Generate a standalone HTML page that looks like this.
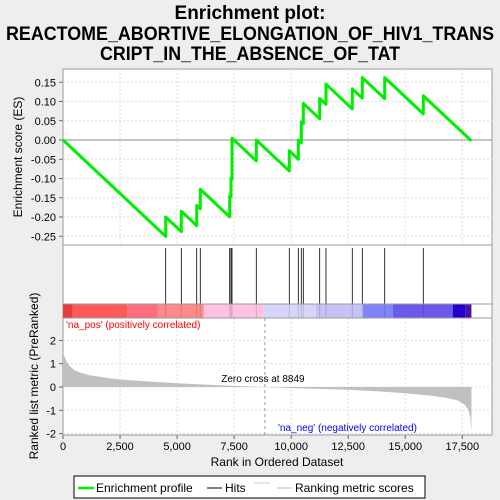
<!DOCTYPE html>
<html><head><meta charset="utf-8"><style>
html,body{margin:0;padding:0;background:#eeeeee;}
svg{display:block;font-family:"Liberation Sans",sans-serif;}
</style></head><body>
<svg id="chart" width="500" height="500" viewBox="0 0 500 500">
<rect x="0" y="0" width="500" height="500" fill="#eeeeee"/>
<g font-weight="bold" font-size="19" text-anchor="middle" fill="#000">
<text x="250" y="19">Enrichment plot:</text>
<text x="250" y="40" textLength="488" lengthAdjust="spacingAndGlyphs">REACTOME_ABORTIVE_ELONGATION_OF_HIV1_TRANS</text>
<text x="250" y="60" textLength="300" lengthAdjust="spacingAndGlyphs">CRIPT_IN_THE_ABSENCE_OF_TAT</text>
</g>
<rect x="63" y="69" width="429" height="366" fill="#fff" stroke="#999"/>
<g id="grid"></g>
<g id="es"></g>
<g id="hits"></g>
<g id="bar"></g>
<g id="metric"></g>
<g id="axes"></g>
<text x="22" y="157" transform="rotate(-90 22 157)" text-anchor="middle" font-size="12">Enrichment score (ES)</text>
<text x="38" y="376" transform="rotate(-90 38 376)" text-anchor="middle" font-size="12">Ranked list metric (PreRanked)</text>
<text x="277" y="466" text-anchor="middle" font-size="12">Rank in Ordered Dataset</text>
<g>
<rect x="74" y="476" width="351" height="22" fill="#fff" stroke="#000"/>
<line x1="78" y1="488" x2="94" y2="488" stroke="#00ee00" stroke-width="2.5"/>
<text x="96" y="492" font-size="12">Enrichment profile</text>
<line x1="207" y1="488" x2="222" y2="488" stroke="#000"/>
<text x="225" y="492" font-size="12">Hits</text>
<line x1="254" y1="483" x2="270" y2="483" stroke="#ccc"/>
<line x1="277" y1="488" x2="292" y2="488" stroke="#bbb"/>
<text x="295" y="492" font-size="12">Ranking metric scores</text>
</g>
</svg>
<script>
const NS="http://www.w3.org/2000/svg";
const totalRanks=17900;
const hitRanks=[4501,5185,5860,6017,7306,7363,7407,8472,9918,10313,10444,10532,11250,11526,12679,13117,14099,15791];
const esAfterHit=[-0.200,-0.185,-0.170,-0.128,-0.145,-0.100,0.005,0.000,-0.028,0.000,0.047,0.095,0.108,0.145,0.133,0.162,0.162,0.115];
const esMissStep=0.0000556;
const esTicks=[-0.25,-0.20,-0.15,-0.10,-0.05,0.00,0.05,0.10,0.15];
const xTicks=[0,2500,5000,7500,10000,12500,15000,17500];
const metricTicks=[-2,-1,0,1,2];
const metricRanks=[0,50,150,300,500,800,1200,2000,2500,3500,5000,6500,8000,8849,10000,11500,12500,14000,15000,16000,16800,17300,17600,17750,17850,17900];
const metricValues=[1.6,1.35,1.1,0.9,0.72,0.6,0.5,0.38,0.32,0.25,0.16,0.09,0.03,0.0,-0.05,-0.09,-0.12,-0.2,-0.27,-0.36,-0.46,-0.58,-0.75,-0.95,-1.3,-1.9];
const barBounds=[0,430,2810,4140,6170,8800,11080,13150,14450,17080,17650,17900];
const barColors=["#e83c3c","#ff5a5a","#ff6e7e","#ff8a8a","#ffc2e2","#d6d6fa","#c6c2f8","#8282fa","#6a5aea","#2400cc","#4c10a8"];
const zeroCross=8849;

const X=r=>63+r*0.022817;
const Yes=v=>140-v*385;
const Ym=v=>387-v*23.3;
function mk(tag,attrs,parent){const e=document.createElementNS(NS,tag);for(const k in attrs)e.setAttribute(k,attrs[k]);parent.appendChild(e);return e;}
const grid=document.getElementById('grid'),es=document.getElementById('es'),hits=document.getElementById('hits'),bar=document.getElementById('bar'),metric=document.getElementById('metric'),axes=document.getElementById('axes');

// grid
xTicks.forEach(t=>{if(t===0)return;[[69,245],[318,435]].forEach(([a,b])=>{const l=mk('line',{x1:X(t),x2:X(t),y1:a,y2:b,stroke:'#ddd','stroke-dasharray':'2,2'},grid);

});});
esTicks.forEach(t=>{const l=mk('line',{x1:63,x2:492,y1:Yes(t),y2:Yes(t),stroke:'#ddd','stroke-dasharray':'2,2'},grid);

});
metricTicks.forEach(t=>{const l=mk('line',{x1:63,x2:492,y1:Ym(t),y2:Ym(t),stroke:'#ddd','stroke-dasharray':'2,2'},grid);

});

// ES panel
const zl=mk('line',{x1:63,x2:492,y1:Yes(0),y2:Yes(0),stroke:'#888'},es);


let pts=[[0,0]],prevR=0,prevV=0;
hitRanks.forEach((r,i)=>{const before=prevV-esMissStep*(r-prevR);pts.push([r,before]);pts.push([r,esAfterHit[i]]);prevR=r;prevV=esAfterHit[i];});
pts.push([totalRanks,prevV-esMissStep*(totalRanks-prevR)]);
const pl=mk('polyline',{points:pts.map(p=>X(p[0])+','+Yes(p[1])).join(' '),fill:'none',stroke:'#00ee00','stroke-width':3,'stroke-linejoin':'round'},es);


mk('line',{x1:63,x2:492,y1:245,y2:245,stroke:'#999'},es);

// hits
hitRanks.forEach(r=>{const l=mk('line',{x1:X(r),x2:X(r),y1:248,y2:304,stroke:'#000','stroke-width':0.8},hits);

});

// color bar
barColors.forEach((c,i)=>{const rc=mk('rect',{x:X(barBounds[i]),y:304,width:X(barBounds[i+1])-X(barBounds[i]),height:14,fill:c},bar);

});
hitRanks.forEach(r=>{mk('line',{x1:X(r),x2:X(r),y1:304,y2:318,stroke:'rgba(0,0,0,0.15)'},bar);});
mk('line',{x1:63,x2:492,y1:304,y2:304,stroke:'#999'},bar);
mk('line',{x1:63,x2:492,y1:318,y2:318,stroke:'#999'},bar);

// metric
let mp=metricRanks.map((r,i)=>X(r)+','+Ym(metricValues[i]));
const area=mk('polygon',{points:X(0)+','+Ym(0)+' '+mp.join(' ')+' '+X(totalRanks)+','+Ym(0),fill:'#c0c0c0',stroke:'none'},metric);


const zc=mk('line',{x1:X(zeroCross),x2:X(zeroCross),y1:318,y2:435,stroke:'#999','stroke-dasharray':'3,3'},metric);


const zt=mk('text',{x:X(zeroCross)-2,y:382,'font-size':'10','text-anchor':'middle'},metric);zt.textContent='Zero cross at '+zeroCross;


const np=mk('text',{x:66,y:328,'font-size':'10',fill:'#ff0000'},metric);np.textContent="'na_pos' (positively correlated)";


const nn=mk('text',{x:278,y:431,'font-size':'10',fill:'#0000ff'},metric);nn.textContent="'na_neg' (negatively correlated)";



// axes ticks
esTicks.forEach(t=>{mk('line',{x1:59,x2:63,y1:Yes(t),y2:Yes(t),stroke:'#666'},axes);
const tx=mk('text',{x:56,y:Yes(t)+4,'font-size':'11','text-anchor':'end'},axes);tx.textContent=t.toFixed(2);

});
metricTicks.forEach(t=>{mk('line',{x1:59,x2:63,y1:Ym(t),y2:Ym(t),stroke:'#666'},axes);
const tx=mk('text',{x:56,y:Ym(t)+4,'font-size':'11','text-anchor':'end'},axes);tx.textContent=t;

});
xTicks.forEach(t=>{mk('line',{x1:X(t),x2:X(t),y1:435,y2:439,stroke:'#666'},axes);
const tx=mk('text',{x:X(t),y:450,'font-size':'11','text-anchor':'middle'},axes);tx.textContent=t.toLocaleString('en-US');

});
</script>
</body></html>
